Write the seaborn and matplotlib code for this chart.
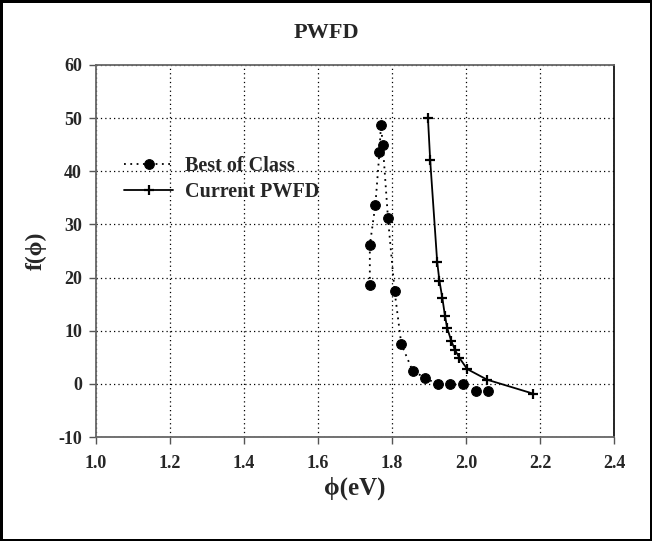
import matplotlib
matplotlib.use("Agg")
import matplotlib.pyplot as plt
import seaborn as sns
import pandas as pd

best_x = [1.740, 1.740, 1.755, 1.766, 1.770, 1.775, 1.789, 1.807, 1.825, 1.856,
          1.889, 1.923, 1.956, 1.991, 2.026, 2.060]
best_y = [18.6, 26.1, 33.7, 43.6, 48.7, 45.0, 31.2, 17.4, 7.5, 2.4,
          1.2, -0.1, -0.1, -0.1, -1.3, -1.3]
cur_x = [1.897, 1.903, 1.922, 1.928, 1.936, 1.943, 1.949, 1.960, 1.970, 1.982,
         2.003, 2.057, 2.180]
cur_y = [50.0, 42.1, 22.9, 19.4, 16.1, 12.8, 10.5, 8.1, 6.4, 4.9,
         2.8, 0.8, -1.8]
x_ticks = [1.0, 1.2, 1.4, 1.6, 1.8, 2.0, 2.2, 2.4]
y_ticks = [-10, 0, 10, 20, 30, 40, 50, 60]
labels = ["Best of Class", "Current PWFD"]

sns.set_style("white")
serif = ["Liberation Serif", "DejaVu Serif"]
plt.rcParams["font.family"] = serif
plt.rcParams["font.weight"] = "bold"

fig = plt.figure(figsize=(6.52, 5.41), dpi=100, linewidth=2.5, edgecolor="black")
ax = fig.add_axes([0.147, 0.192, 0.795, 0.688])

df_best = pd.DataFrame({"x": best_x, "y": best_y})
df_cur = pd.DataFrame({"x": cur_x, "y": cur_y})

sns.lineplot(data=df_best, x="x", y="y", sort=False, estimator=None, ax=ax,
             color="black", linestyle=(0, (1, 2.5)), linewidth=1.3, marker="o",
             markersize=7, markeredgecolor="black", label=labels[0])
sns.lineplot(data=df_cur, x="x", y="y", sort=False, estimator=None, ax=ax,
             color="black", linestyle="-", linewidth=1.3, marker="+", markersize=7,
             markeredgewidth=1.6, markeredgecolor="black", label=labels[1])

ax.set_xlim(1.0, 2.4)
ax.set_ylim(-10, 60)
ax.set_xticks(x_ticks)
ax.set_yticks(y_ticks)
ax.set_xticklabels([f"{v:.1f}" for v in x_ticks], fontsize=13, fontweight="bold")
ax.set_yticklabels([str(v) for v in y_ticks], fontsize=13, fontweight="bold")
ax.tick_params(axis="x", direction="out", length=5, width=1, color="#555555",
               bottom=True, pad=8)
ax.tick_params(axis="y", direction="out", length=5, width=1, color="#555555",
               left=True, pad=5)
ax.grid(True, linestyle=(0, (1, 2.5)), color="black", linewidth=0.9)

for side in ["left", "bottom", "top"]:
    ax.spines[side].set_color("#666666")
    ax.spines[side].set_linewidth(1.3)
ax.spines["right"].set_color("black")
ax.spines["right"].set_linewidth(1.2)

ax.set_xlabel("ϕ(eV)", fontsize=18, fontweight="bold", labelpad=3)
ax.set_ylabel("f(ϕ)", fontsize=17, fontweight="bold", labelpad=8)
fig.suptitle("PWFD", fontsize=16, fontweight="bold", y=0.958)

leg = ax.legend(loc="upper left", bbox_to_anchor=(0.02, 0.805), frameon=False,
                prop={"family": serif, "weight": "bold", "size": 14.5},
                handlelength=2.4, handletextpad=0.6, labelspacing=0.3)
for h in leg.legend_handles:
    h.set_color("black")

fig.savefig("out.png", dpi=100, edgecolor=fig.get_edgecolor())
